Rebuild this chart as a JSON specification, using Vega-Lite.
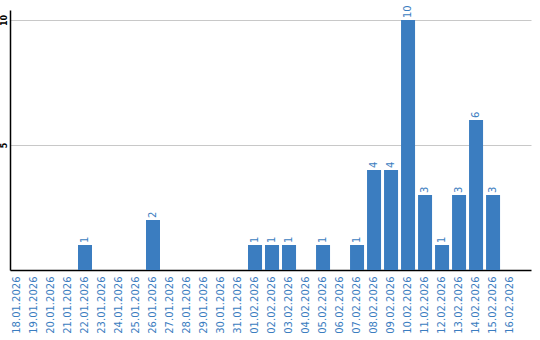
{
  "$schema": "https://vega.github.io/schema/vega-lite/v6.json",
  "width": 521,
  "height": 260,
  "autosize": {"type": "none"},
  "padding": {"left": 10, "top": 10, "right": 9, "bottom": 70},
  "background": "white",
  "config": {"view": {"stroke": null}, "font": "DejaVu Sans"},
  "data": {"values": [
    {"date": "18.01.2026", "value": 0},
    {"date": "19.01.2026", "value": 0},
    {"date": "20.01.2026", "value": 0},
    {"date": "21.01.2026", "value": 0},
    {"date": "22.01.2026", "value": 1},
    {"date": "23.01.2026", "value": 0},
    {"date": "24.01.2026", "value": 0},
    {"date": "25.01.2026", "value": 0},
    {"date": "26.01.2026", "value": 2},
    {"date": "27.01.2026", "value": 0},
    {"date": "28.01.2026", "value": 0},
    {"date": "29.01.2026", "value": 0},
    {"date": "30.01.2026", "value": 0},
    {"date": "31.01.2026", "value": 0},
    {"date": "01.02.2026", "value": 1},
    {"date": "02.02.2026", "value": 1},
    {"date": "03.02.2026", "value": 1},
    {"date": "04.02.2026", "value": 0},
    {"date": "05.02.2026", "value": 1},
    {"date": "06.02.2026", "value": 0},
    {"date": "07.02.2026", "value": 1},
    {"date": "08.02.2026", "value": 4},
    {"date": "09.02.2026", "value": 4},
    {"date": "10.02.2026", "value": 10},
    {"date": "11.02.2026", "value": 3},
    {"date": "12.02.2026", "value": 1},
    {"date": "13.02.2026", "value": 3},
    {"date": "14.02.2026", "value": 6},
    {"date": "15.02.2026", "value": 3},
    {"date": "16.02.2026", "value": 0}
  ]},
  "encoding": {
    "x": {
      "field": "date", "type": "ordinal", "sort": null,
      "scale": {"paddingInner": 0.176, "paddingOuter": 0.41, "align": 0},
      "axis": {
        "title": null, "labelAngle": 270, "labelFontSize": 10, "labelColor": "#3b7dc0",
        "labelFont": "DejaVu Sans", "ticks": false, "labelPadding": 6,
        "domainColor": "#000000", "domainWidth": 1.5, "grid": false
      }
    },
    "y": {
      "field": "value", "type": "quantitative",
      "scale": {"domain": [0, 10.4], "nice": false},
      "axis": {
        "title": null, "values": [5, 10], "grid": true, "gridColor": "#c8c8c8", "gridWidth": 1,
        "ticks": false, "labelAngle": 270, "labelFontSize": 8, "labelFontWeight": "bold",
        "labelColor": "#000000", "labelPadding": 2, "domainColor": "#000000", "domainWidth": 1.5
      }
    }
  },
  "layer": [
    {"mark": {"type": "bar", "color": "#3b7dc0"}},
    {
      "transform": [{"filter": "datum.value > 0"}],
      "mark": {"type": "text", "angle": 270, "align": "left", "baseline": "middle", "dx": 2, "fontSize": 10, "color": "#3b7dc0", "font": "DejaVu Sans"},
      "encoding": {"text": {"field": "value", "type": "quantitative"}}
    }
  ]
}
